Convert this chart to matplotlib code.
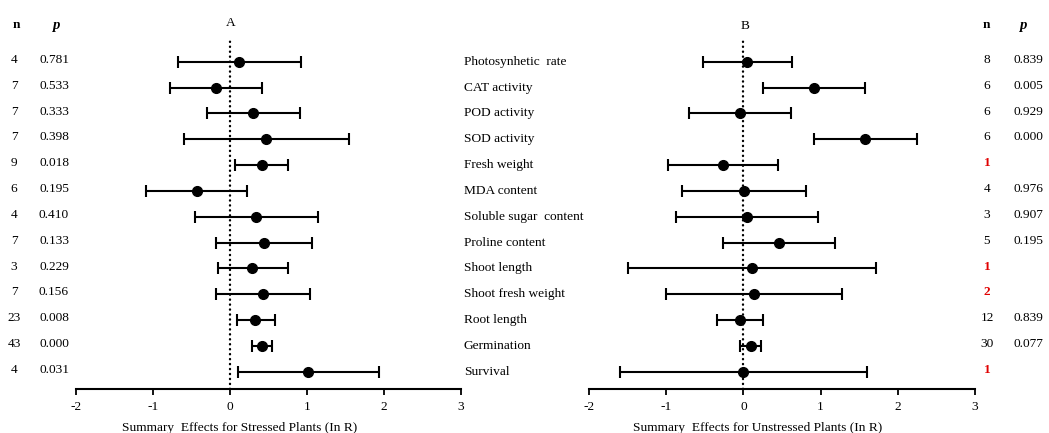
import matplotlib
matplotlib.use("Agg")
import matplotlib.pyplot as plt
import matplotlib.transforms as mtransforms

# ---------------- data ----------------
categories = ["Photosynhetic  rate", "CAT activity", "POD activity", "SOD activity",
              "Fresh weight", "MDA content", "Soluble sugar  content", "Proline content",
              "Shoot length", "Shoot fresh weight", "Root length", "Germination", "Survival"]

stressed_mean = [0.12, -0.18, 0.30, 0.47, 0.41, -0.43, 0.34, 0.44, 0.29, 0.43, 0.33, 0.41, 1.01]
stressed_lo   = [-0.67, -0.78, -0.30, -0.60, 0.07, -1.09, -0.46, -0.18, -0.16, -0.18, 0.09, 0.28, 0.10]
stressed_hi   = [0.92, 0.42, 0.91, 1.55, 0.75, 0.22, 1.14, 1.07, 0.75, 1.04, 0.58, 0.55, 1.93]
stressed_n    = ["4", "7", "7", "7", "9", "6", "4", "7", "3", "7", "23", "43", "4"]
stressed_p    = ["0.781", "0.533", "0.333", "0.398", "0.018", "0.195", "0.410", "0.133",
                 "0.229", "0.156", "0.008", "0.000", "0.031"]

unstressed_mean = [0.05, 0.92, -0.04, 1.58, -0.27, 0.01, 0.05, 0.46, 0.11, 0.14, -0.04, 0.10, 0.00]
unstressed_lo   = [-0.52, 0.25, -0.70, 0.92, -0.98, -0.79, -0.87, -0.27, -1.50, -1.00, -0.34, -0.04, -1.60]
unstressed_hi   = [0.63, 1.58, 0.62, 2.25, 0.45, 0.81, 0.97, 1.19, 1.72, 1.28, 0.26, 0.23, 1.60]
unstressed_n    = ["8", "6", "6", "6", "1", "4", "3", "5", "1", "2", "12", "30", "1"]
unstressed_p    = ["0.839", "0.005", "0.929", "0.000", "", "0.976", "0.907", "0.195",
                   "", "", "0.839", "0.077", ""]

xticks = [-2, -1, 0, 1, 2, 3]
xlabel_stressed = "Summary  Effects for Stressed Plants (In R)"
xlabel_unstressed = "Summary  Effects for Unstressed Plants (In R)"

# ---------------- style ----------------
plt.rcParams['font.family'] = ['Liberation Serif', 'DejaVu Serif']
FS = 9.6
W, H = 1049, 433
fig = plt.figure(figsize=(W / 100, H / 100), dpi=100)


def fx(px):
    return px / W


def fy(py):
    return 1 - py / H


ax_top, ax_bot = 40, 388.5
row0, row_step = 61.7, 25.83
ylim_top = (ax_top - row0) / row_step
ylim_bot = (ax_bot - row0) / row_step

rows = list(range(len(categories)))


def make_panel(left_px, right_px, mean, lo, hi):
    ax = fig.add_axes([fx(left_px), fy(ax_bot), (right_px - left_px) / W, (ax_bot - ax_top) / H])
    xerr = [[m - l for m, l in zip(mean, lo)], [h - m for m, h in zip(mean, hi)]]
    ax.errorbar(mean, rows, xerr=xerr, fmt='o', color='black', ms=7,
                elinewidth=1.5, capsize=4, capthick=1.5, zorder=3)
    ax.axvline(0, color='black', lw=1.7, linestyle=(0, (0.1, 2.0)),
               dash_capstyle='round', zorder=1)
    ax.set_xlim(-2, 3)
    ax.set_ylim(ylim_bot, ylim_top)
    for s in ['top', 'left', 'right']:
        ax.spines[s].set_visible(False)
    ax.spines['bottom'].set_linewidth(1.5)
    ax.set_yticks([])
    ax.set_xticks(xticks)
    ax.set_xticklabels([str(t) for t in xticks])
    ax.tick_params(axis='x', direction='out', length=4, width=1.3, labelsize=FS, pad=5)
    return ax


axA = make_panel(76, 461, stressed_mean, stressed_lo, stressed_hi)
axB = make_panel(589, 975, unstressed_mean, unstressed_lo, unstressed_hi)

# panel letters
fig.text(fx(231), fy(23), "A", ha='center', va='center', fontsize=FS)
fig.text(fx(745), fy(26), "B", ha='center', va='center', fontsize=FS)

# headers
fig.text(fx(16), fy(25), "n", ha='center', va='center', fontsize=FS, fontweight='bold')
fig.text(fx(56), fy(25), "p", ha='center', va='center', fontsize=FS + 1, fontweight='bold', style='italic')
fig.text(fx(986), fy(25), "n", ha='center', va='center', fontsize=FS, fontweight='bold')
fig.text(fx(1023), fy(25), "p", ha='center', va='center', fontsize=FS + 1, fontweight='bold', style='italic')

# row texts via blended transforms (x in figure px, y in data rows)
transA = mtransforms.blended_transform_factory(fig.transFigure, axA.transData)
transB = mtransforms.blended_transform_factory(fig.transFigure, axB.transData)
dy = -0.07
for i in rows:
    fig.text(fx(14), i + dy, stressed_n[i], transform=transA, ha='center', va='center', fontsize=FS)
    fig.text(fx(54), i + dy, stressed_p[i], transform=transA, ha='center', va='center', fontsize=FS)
    fig.text(fx(464), i, categories[i], transform=transB, ha='left', va='center', fontsize=FS)
    red = unstressed_p[i] == ""
    fig.text(fx(987), i + dy, unstressed_n[i], transform=transB, ha='center', va='center',
             fontsize=FS, color='#e00000' if red else 'black',
             fontweight='bold' if red else 'normal')
    if not red:
        fig.text(fx(1028), i + dy, unstressed_p[i], transform=transB, ha='center', va='center', fontsize=FS)

# axis labels
fig.text(fx(240), fy(428), xlabel_stressed, ha='center', va='center', fontsize=FS)
fig.text(fx(758), fy(428), xlabel_unstressed, ha='center', va='center', fontsize=FS)

fig.savefig("out.png", dpi=100)
